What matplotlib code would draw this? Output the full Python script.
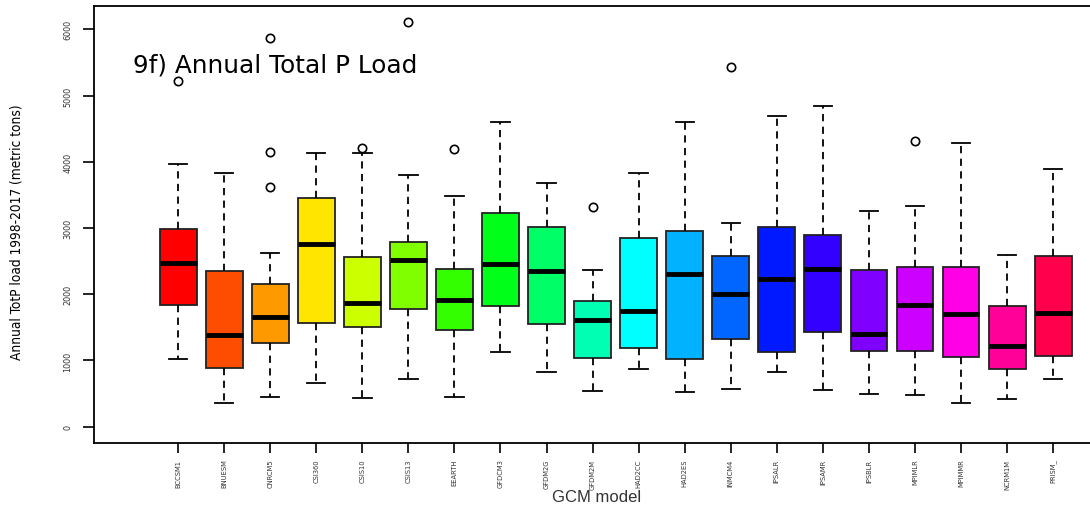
import numpy as np
import matplotlib
matplotlib.use("Agg")
from matplotlib import pyplot as plt
from matplotlib import font_manager as fm
from matplotlib.colors import hsv_to_rgb

models = ["BCCSM1", "BNUESM", "CNRCM5", "CSI360", "CSIS10", "CSIS13", "EEARTH",
          "GFDCM3", "GFDM2G", "GFDM2M", "HAD2CC", "HAD2ES", "INMCM4", "IPSALR",
          "IPSAMR", "IPSBLR", "MPIMLR", "MPIMMR", "NCRM1M", "PRISM_"]

# five-number summaries of annual TotP load (metric tons)
whis_lo = [1027, 358, 448, 655, 438, 725, 443, 1133, 821, 539,
           867, 529, 569, 830, 559, 498, 473, 353, 413, 725]
q1 = [1838, 886, 1268, 1561, 1505, 1773, 1465, 1818, 1551, 1037,
      1184, 1018, 1320, 1123, 1430, 1138, 1138, 1057, 866, 1063]
med = [2467, 1389, 1652, 2759, 1872, 2522, 1909, 2452, 2351, 1616,
       1747, 2310, 2004, 2226, 2376, 1395, 1838, 1697, 1218, 1722]
q3 = [2980, 2346, 2159, 3453, 2567, 2793, 2386, 3227, 3020, 1893,
      2849, 2960, 2582, 3015, 2899, 2361, 2407, 2416, 1822, 2577]
whis_hi = [3966, 3835, 2618, 4133, 4133, 3796, 3488, 4606, 3680, 2371,
           3826, 4606, 3076, 4696, 4847, 3252, 3332, 4278, 2588, 3886]
outliers = [[5224], [], [5864, 4152, 3615], [], [4208], [6106], [4193],
            [], [], [3313], [], [], [5436], [], [], [], [4309], [], [], []]

# narrow sans for axis text, if one is around
names = set(f.name for f in fm.fontManager.ttflist)
if "Liberation Sans Narrow" in names:
    narrow = dict(family="Liberation Sans Narrow")
else:
    narrow = dict(family="DejaVu Sans", fontstretch="condensed")

stats = []
for i in range(len(models)):
    stats.append(dict(med=med[i], q1=q1[i], q3=q3[i], whislo=whis_lo[i],
                      whishi=whis_hi[i], fliers=outliers[i], label=models[i]))

fig = plt.figure(figsize=(10.9, 5.06), dpi=100)
ax = fig.add_axes([0.0865, 0.1219, 0.9135, 0.8636])

bp = ax.bxp(stats, positions=np.arange(1, 21), widths=0.8, patch_artist=True,
            boxprops=dict(edgecolor="#222222", linewidth=1.3),
            medianprops=dict(color="black", linewidth=3.5, solid_capstyle="butt"),
            whiskerprops=dict(color="black", linewidth=1.3, linestyle=(0, (4, 3))),
            capprops=dict(color="black", linewidth=1.3),
            flierprops=dict(marker="o", markerfacecolor="none", markeredgecolor="black",
                            markersize=6, markeredgewidth=1.2),
            capwidths=0.4)

# R style rainbow(20) fill
for i, box in enumerate(bp["boxes"]):
    box.set_facecolor(hsv_to_rgb((i / 20.0, 1.0, 1.0)))

ax.set_xlim(-0.82, 20.8)
ax.set_ylim(-251, 6348)
ax.set_yticks([0, 1000, 2000, 3000, 4000, 5000, 6000])
ax.set_yticklabels(["0", "1000", "2000", "3000", "4000", "5000", "6000"],
                   rotation=90, va="center", fontsize=6.5, color="#333333", **narrow)
ax.set_xticks(np.arange(1, 21))
ax.set_xticklabels(models, rotation=90, fontsize=5.4, color="#333333", **narrow)
ax.tick_params(axis="y", length=8, width=1.2, pad=8)
ax.tick_params(axis="x", length=7, width=1.2, pad=4)

for side in ["left", "top", "bottom"]:
    ax.spines[side].set_linewidth(1.3)
ax.spines["right"].set_visible(False)

ax.set_ylabel("Annual TotP load 1998-2017 (metric tons)", fontsize=9.8, **narrow)
ax.yaxis.set_label_coords(-0.071, 0.485)
fig.text(0.547, 0.002, "GCM model", ha="center", va="bottom", fontsize=12,
         family=["Liberation Sans", "DejaVu Sans"], color="#333333")

ax.text(0.0385, 0.85, "9f) Annual Total P Load", transform=ax.transAxes,
        fontsize=17.8, family="DejaVu Sans", va="baseline")

fig.savefig("out.png", dpi=100)
